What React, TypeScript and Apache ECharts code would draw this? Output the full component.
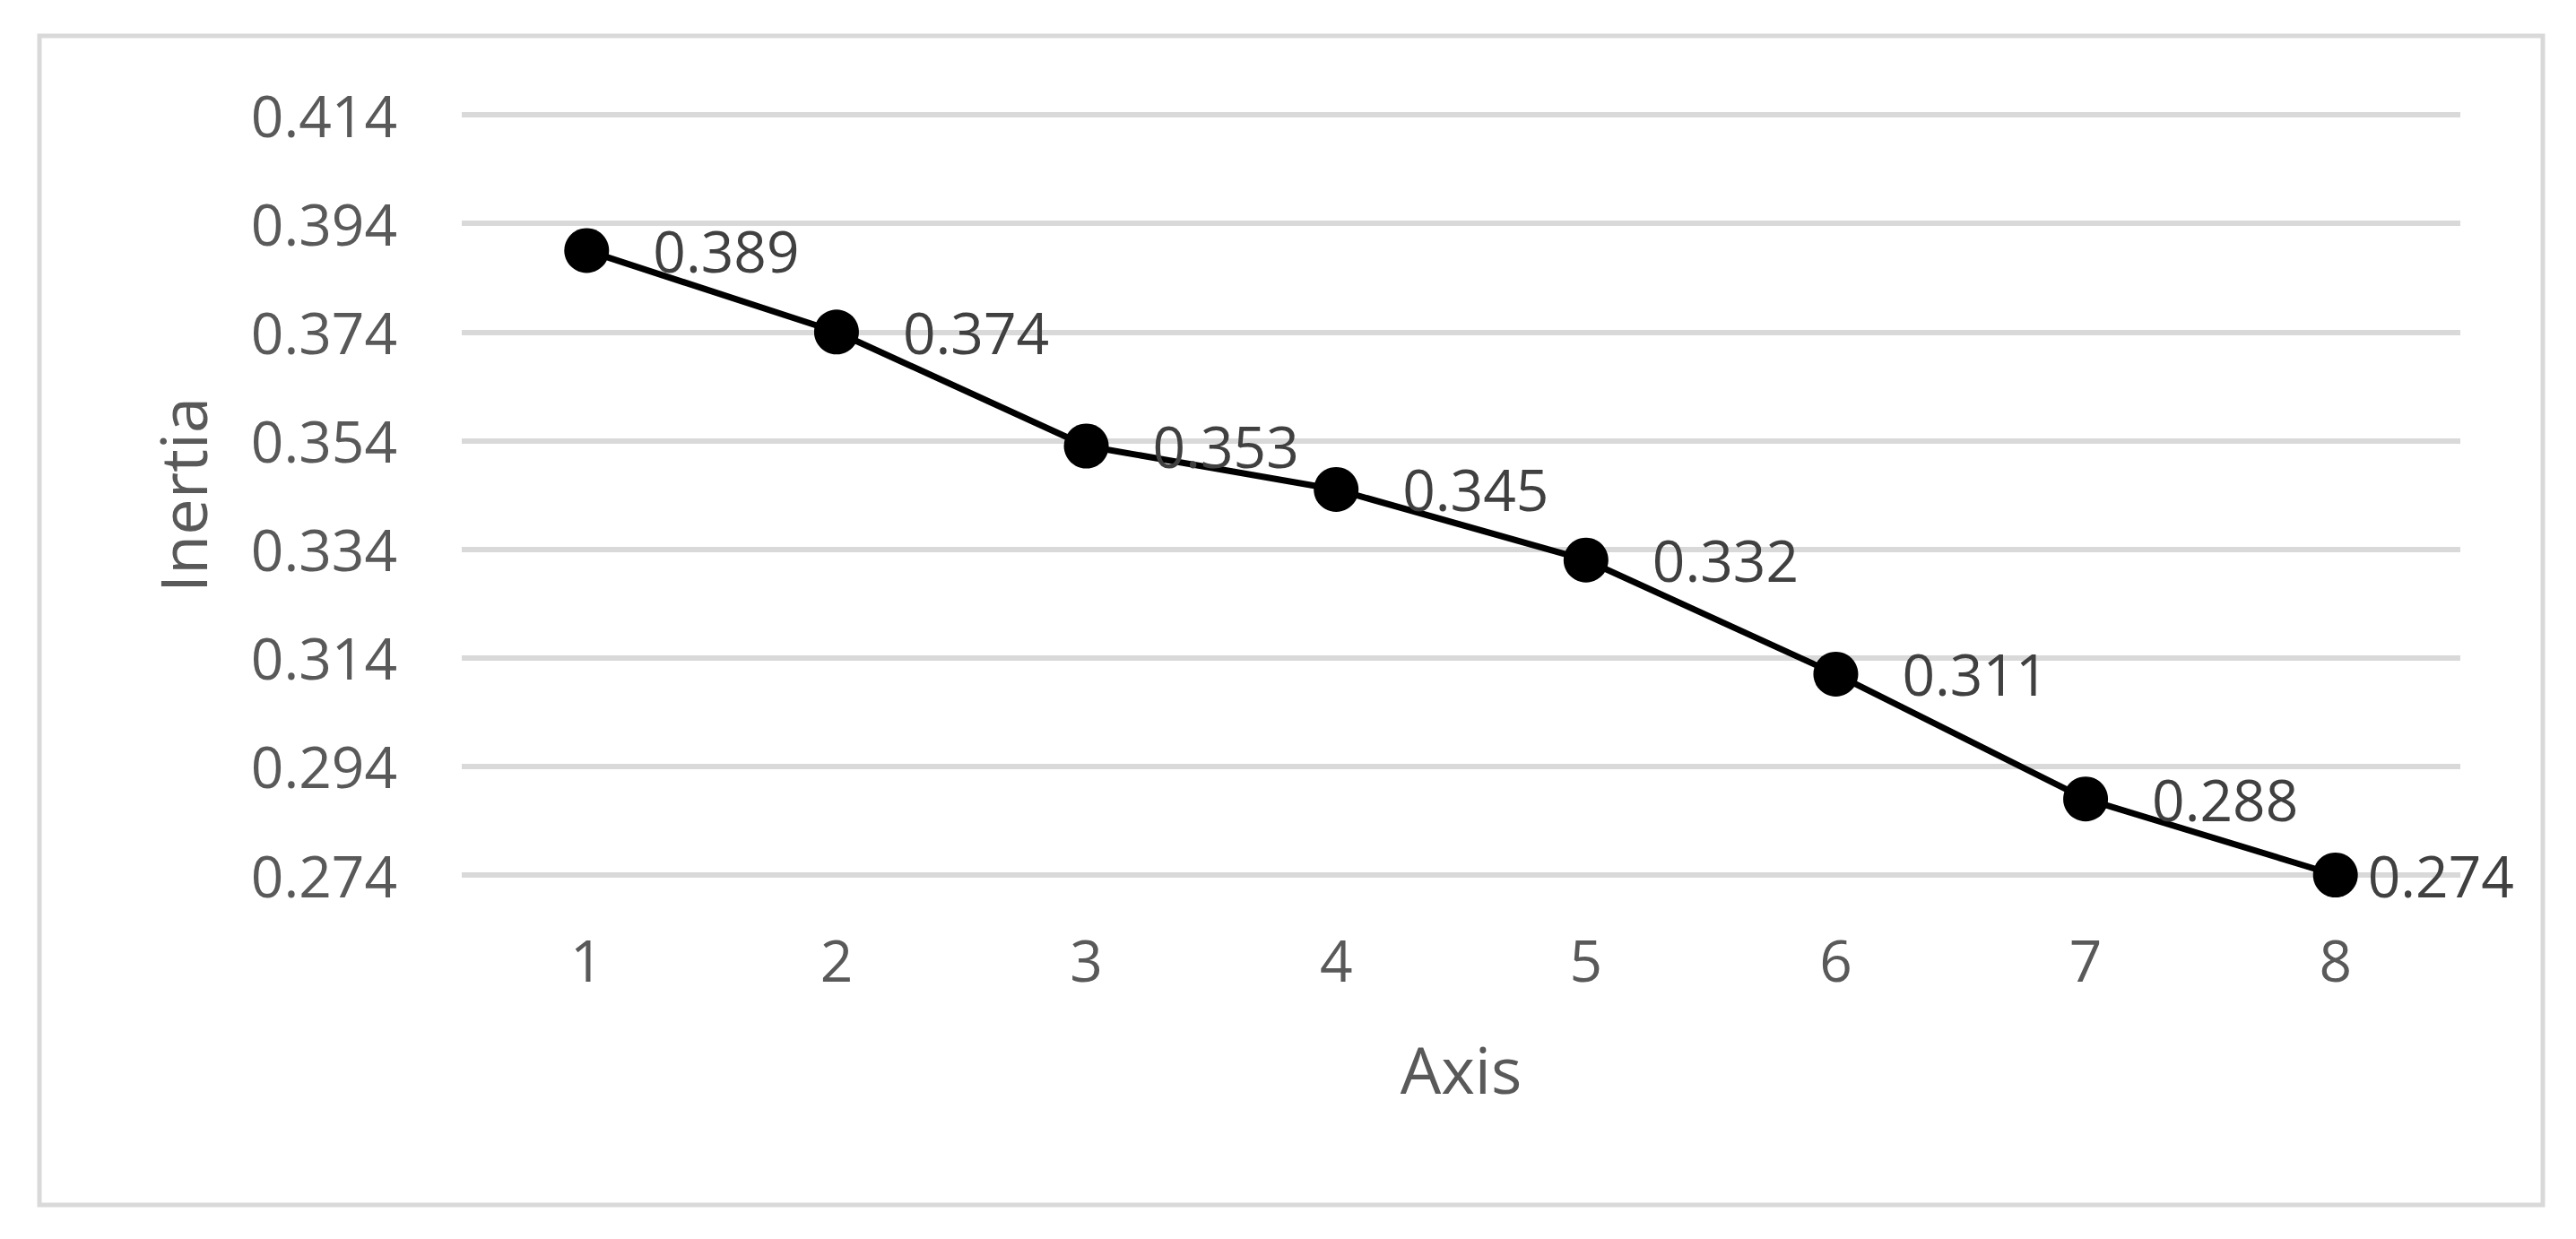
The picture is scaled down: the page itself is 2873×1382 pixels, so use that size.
import React, { useEffect, useRef } from "react";
import * as echarts from "echarts";

const categories = ["1", "2", "3", "4", "5", "6", "7", "8"];
const inertia = [0.389, 0.374, 0.353, 0.345, 0.332, 0.311, 0.288, 0.274];
const yMinTick = 0.274;
const yMaxTick = 0.414;
const yStep = 0.02;
const xTitle = "Axis";
const yTitle = "Inertia";

const FONT = "'Open Sans', 'Noto Sans', sans-serif";

export default function App() {
  const ref = useRef<HTMLDivElement>(null);
  useEffect(() => {
    if (!ref.current) return;
    const chart = echarts.init(ref.current, undefined, { renderer: "svg" });
    const base = yMinTick;
    const seriesData = inertia.map((v, i) => ({
      value: +(v - base).toFixed(6),
      label: i === inertia.length - 1 ? { distance: 11 } : undefined,
    }));
    chart.setOption({
      animation: false,
      backgroundColor: "#ffffff",
      graphic: [
        {
          type: "rect",
          shape: { x: 44, y: 40, width: 2792, height: 1304 },
          style: { fill: "none", stroke: "#d9d9d9", lineWidth: 5 },
          silent: true,
        },
      ],
      grid: { left: 515, right: 129, top: 128, bottom: 406 },
      xAxis: {
        type: "category",
        data: categories,
        boundaryGap: true,
        axisLine: { show: false },
        axisTick: { show: false },
        axisLabel: { fontFamily: FONT, fontSize: 64, color: "#595959", margin: 62 },
        name: xTitle,
        nameLocation: "middle",
        nameGap: 180,
        nameTextStyle: { fontFamily: FONT, fontSize: 72, color: "#595959" },
      },
      yAxis: {
        type: "value",
        min: 0,
        max: +(yMaxTick - base).toFixed(6),
        interval: yStep,
        axisLine: { show: false },
        axisTick: { show: false },
        splitLine: { lineStyle: { color: "#d9d9d9", width: 6 } },
        axisLabel: {
          fontFamily: FONT,
          fontSize: 64,
          color: "#595959",
          margin: 72,
          formatter: (v: number) => (v + base).toFixed(3),
        },
        name: yTitle,
        nameLocation: "middle",
        nameGap: 276,
        nameRotate: 90,
        nameTextStyle: { fontFamily: FONT, fontSize: 72, color: "#595959" },
      },
      series: [
        {
          type: "line",
          data: seriesData,
          symbol: "circle",
          symbolSize: 50,
          itemStyle: { color: "#000000" },
          lineStyle: { color: "#000000", width: 7 },
          label: {
            show: true,
            position: "right",
            distance: 49,
            fontFamily: FONT,
            fontSize: 64,
            color: "#404040",
            formatter: (p: any) => inertia[p.dataIndex].toFixed(3),
          },
        },
      ],
    });
    return () => chart.dispose();
  }, []);
  return (
    <div
      ref={ref}
      style={{ position: "fixed", left: 0, top: 0, width: 2873, height: 1382 }}
    />
  );
}
